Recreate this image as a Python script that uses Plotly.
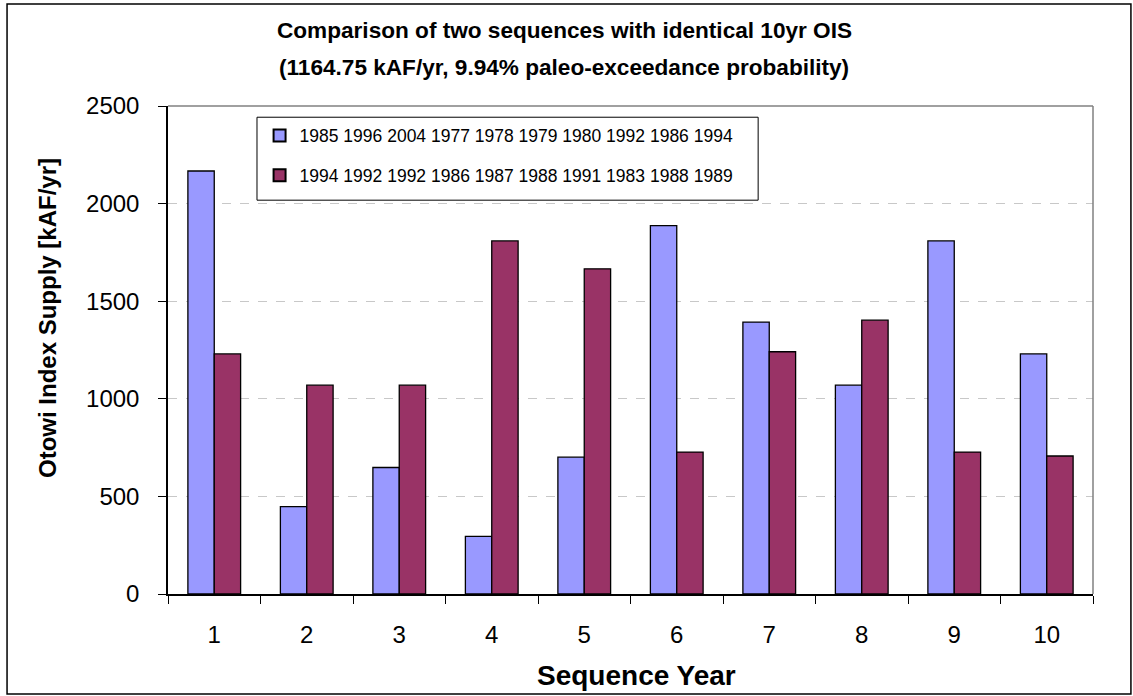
import plotly.graph_objects as go

seq_years = ["1", "2", "3", "4", "5", "6", "7", "8", "9", "10"]
seq_a_name = "1985 1996 2004 1977 1978 1979 1980 1992 1986 1994"
seq_a = [2167, 448, 648, 295, 701, 1887, 1393, 1070, 1809, 1230]
seq_b_name = "1994 1992 1992 1986 1987 1988 1991 1983 1988 1989"
seq_b = [1230, 1070, 1070, 1809, 1666, 727, 1241, 1403, 727, 707]

FONT = "Arial, Liberation Sans, sans-serif"

fig = go.Figure()
fig.add_trace(go.Bar(x=seq_years, y=seq_a, name=seq_a_name, legendgroup="a",
                     marker=dict(color="#9999FF", line=dict(color="black", width=1.3))))
fig.add_trace(go.Bar(x=seq_years, y=seq_b, name=seq_b_name, legendgroup="b",
                     marker=dict(color="#993366", line=dict(color="black", width=1.3))))

fig.update_layout(
    width=1133, height=696,
    margin=dict(l=168, r=40, t=106, b=102),
    paper_bgcolor="white", plot_bgcolor="white",
    font=dict(family=FONT, color="black"),
    barmode="group", bargap=0.43, bargroupgap=0,
    showlegend=True,
    legend=dict(x=0.099, y=0.976, xanchor="left", yanchor="top",
                bgcolor="rgba(0,0,0,0)", borderwidth=0,
                font=dict(size=17.5), tracegroupgap=14,
                itemsizing="constant"),
)

fig.update_xaxes(type="category", tickson="boundaries", ticks="outside",
                 ticklen=8, tickcolor="black", showline=True, linecolor="black",
                 linewidth=1.5, tickfont=dict(size=24), ticklabelstandoff=18,
                 showgrid=False)
fig.update_yaxes(range=[0, 2500], dtick=500, ticks="outside", ticklen=8,
                 tickcolor="black", showline=True, linecolor="black", linewidth=1.5,
                 tickfont=dict(size=24), ticklabelstandoff=14,
                 showgrid=True, gridcolor="#c8c8c8", griddash="dash", gridwidth=1,
                 zeroline=False)

# axis titles
fig.add_annotation(text="<b>Sequence Year</b>", xref="paper", yref="paper",
                   x=0.506, y=-0.168, showarrow=False, font=dict(size=28),
                   xanchor="center", yanchor="middle")
fig.add_annotation(text="<b>Otowi Index Supply [kAF/yr]</b>", xref="paper", yref="paper",
                   x=-0.1297, y=0.5656, showarrow=False, textangle=-90,
                   font=dict(size=24), xanchor="center", yanchor="middle")

# title, two lines
fig.add_annotation(text="<b>Comparison of two sequences with identical 10yr OIS</b>",
                   xref="paper", yref="paper", x=0.4286, y=1.1557, showarrow=False,
                   font=dict(size=22.6), xanchor="center", yanchor="middle")
fig.add_annotation(text="<b>(1164.75 kAF/yr, 9.94% paleo-exceedance probability)</b>",
                   xref="paper", yref="paper", x=0.4286, y=1.0779, showarrow=False,
                   font=dict(size=22.6), xanchor="center", yanchor="middle")

# plot area top/right border, legend box, outer frame
fig.add_shape(type="line", xref="paper", yref="paper", x0=0, x1=1, y0=1, y1=1,
              line=dict(color="#808080", width=1.5))
fig.add_shape(type="line", xref="paper", yref="paper", x0=1, x1=1, y0=0, y1=1,
              line=dict(color="#808080", width=1.5))
fig.add_shape(type="rect", xref="paper", yref="paper", x0=0.0962, x1=0.638,
              y0=0.807, y1=0.977, line=dict(color="black", width=1))
fig.add_shape(type="rect", xref="paper", yref="paper", x0=-0.174, x1=1.041,
              y0=-0.205, y1=1.209, line=dict(color="black", width=1.5))

fig.write_html("out.html", config={"displayModeBar": False},
               post_script="document.body.style.margin='0';")
